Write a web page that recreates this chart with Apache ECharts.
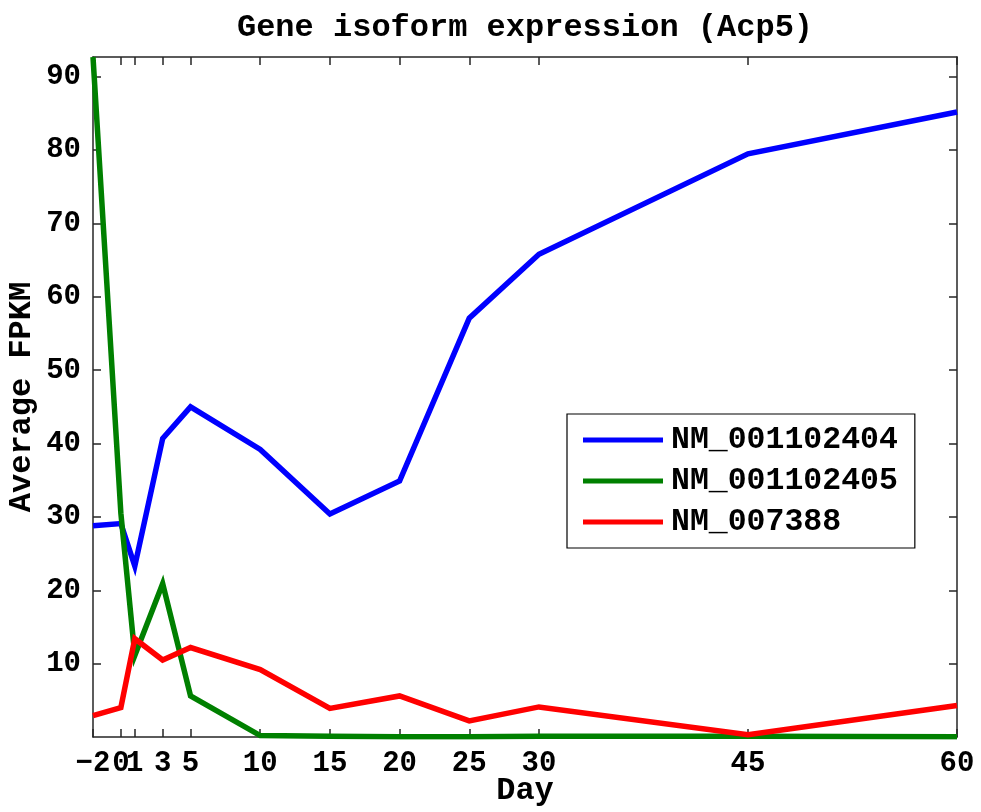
<!DOCTYPE html>
<html><head><meta charset="utf-8">
<script src="https://cdn.jsdelivr.net/npm/echarts@6/dist/echarts.min.js"></script>
<style>html,body{margin:0;padding:0;background:#fff}#c{width:981px;height:812px}</style>
</head><body><div id="c"></div>
<script>
const days = [-2, 0, 1, 3, 5, 10, 15, 20, 25, 30, 45, 60];
const xTicks = [-2, 0, 1, 3, 5, 10, 15, 20, 25, 30, 45, 60];
const xLabelsMain = [-2, 1, 3, 5, 10, 15, 20, 25, 30, 45, 60];
const xLabelsExtra = [0];
const yTicks = [10, 20, 30, 40, 50, 60, 70, 80, 90];
const seriesNames = ['NM_001102404', 'NM_001102405', 'NM_007388'];
const nm001102404 = [28.8, 29.1, 23.3, 40.7, 45.0, 39.2, 30.4, 34.9, 57.1, 65.8, 79.5, 85.2];
const nm001102405 = [92.7, 30.5, 11.1, 20.9, 5.6, 0.2, 0.1, 0.05, 0.05, 0.1, 0.1, 0.05];
const nm007388 = [2.9, 4.0, 13.4, 10.5, 12.2, 9.2, 3.9, 5.6, 2.2, 4.1, 0.3, 4.3];
const colors = ['#0000ff', '#008000', '#ff0000'];

const FONT = '"Liberation Mono", "Courier New", monospace';
const axisCol = '#262626';
const chart = echarts.init(document.getElementById('c'), null, {renderer: 'canvas'});

function pairs(vals) { return days.map((d, i) => [d, vals[i]]); }
const allVals = [nm001102404, nm001102405, nm007388];
const yMax = Math.max(...allVals.flat());

const baseAxisLine = {show: true, onZero: false, lineStyle: {color: axisCol, width: 1.5}};
const tickStyle = {inside: true, length: 8, lineStyle: {color: axisCol, width: 1.5}};
const txt = {fontFamily: FONT, fontWeight: 'bold', fontSize: 32, color: '#000'};
const tickTxt = {fontFamily: FONT, fontWeight: 'bold', fontSize: 29, color: '#000'};
const fmt = v => String(v).replace('-', '\u2212');

chart.setOption({
  animation: false,
  title: {
    text: 'Gene isoform expression (Acp5)', left: 520, textAlign: 'center', top: 7,
    textStyle: Object.assign({}, txt)
  },
  grid: {left: 93, right: 24, top: 57, bottom: 75, containLabel: false, outerBoundsMode: 'none'},
  legend: {
    orient: 'vertical', left: 567, top: 414,
    padding: [10, 17, 10, 16],
    itemWidth: 80, itemHeight: 5, itemGap: 9,
    icon: 'rect',
    borderColor: '#000', borderWidth: 1.2, backgroundColor: '#fff',
    data: seriesNames,
    textStyle: Object.assign({padding: [0, 0, 0, 3]}, txt, {fontSize: 31.5})
  },
  xAxis: [{
    type: 'value', min: -2, max: 60, position: 'bottom',
    name: 'Day', nameLocation: 'middle', nameGap: 38, nameMoveOverlap: false,
    nameTextStyle: Object.assign({}, txt),
    axisLine: baseAxisLine,
    axisTick: Object.assign({customValues: xTicks}, tickStyle),
    axisLabel: Object.assign({customValues: xLabelsMain, margin: 12, hideOverlap: false, showMinLabel: true, showMaxLabel: true,
      formatter: fmt}, tickTxt),
    splitLine: {show: false}
  }, {
    type: 'value', min: -2, max: 60, position: 'top',
    axisLine: baseAxisLine,
    axisTick: Object.assign({customValues: xTicks}, tickStyle),
    axisLabel: {show: false},
    splitLine: {show: false}
  }, {
    type: 'value', min: -2, max: 60, position: 'bottom', offset: 0,
    axisLine: {show: false, onZero: false},
    axisTick: {show: false},
    axisLabel: Object.assign({customValues: xLabelsExtra, margin: 12, hideOverlap: false, formatter: fmt}, tickTxt),
    splitLine: {show: false}
  }],
  yAxis: [{
    type: 'value', min: 0, max: yMax, position: 'left',
    name: 'Average FPKM', nameLocation: 'middle', nameGap: 55, nameRotate: 90, nameMoveOverlap: false,
    nameTextStyle: Object.assign({}, txt),
    axisLine: baseAxisLine,
    axisTick: Object.assign({customValues: yTicks}, tickStyle),
    axisLabel: Object.assign({customValues: yTicks, margin: 12}, tickTxt),
    splitLine: {show: false}
  }, {
    type: 'value', min: 0, max: yMax, position: 'right',
    axisLine: baseAxisLine,
    axisTick: Object.assign({customValues: yTicks}, tickStyle),
    axisLabel: {show: false},
    splitLine: {show: false}
  }],
  series: seriesNames.map((n, i) => ({
    name: n, type: 'line', data: pairs(allVals[i]),
    xAxisIndex: 0, yAxisIndex: 0,
    symbol: 'none', showSymbol: false,
    lineStyle: {color: colors[i], width: 5.5, join: 'miter'},
    itemStyle: {color: colors[i]},
    clip: true
  }))
});
</script></body></html>
